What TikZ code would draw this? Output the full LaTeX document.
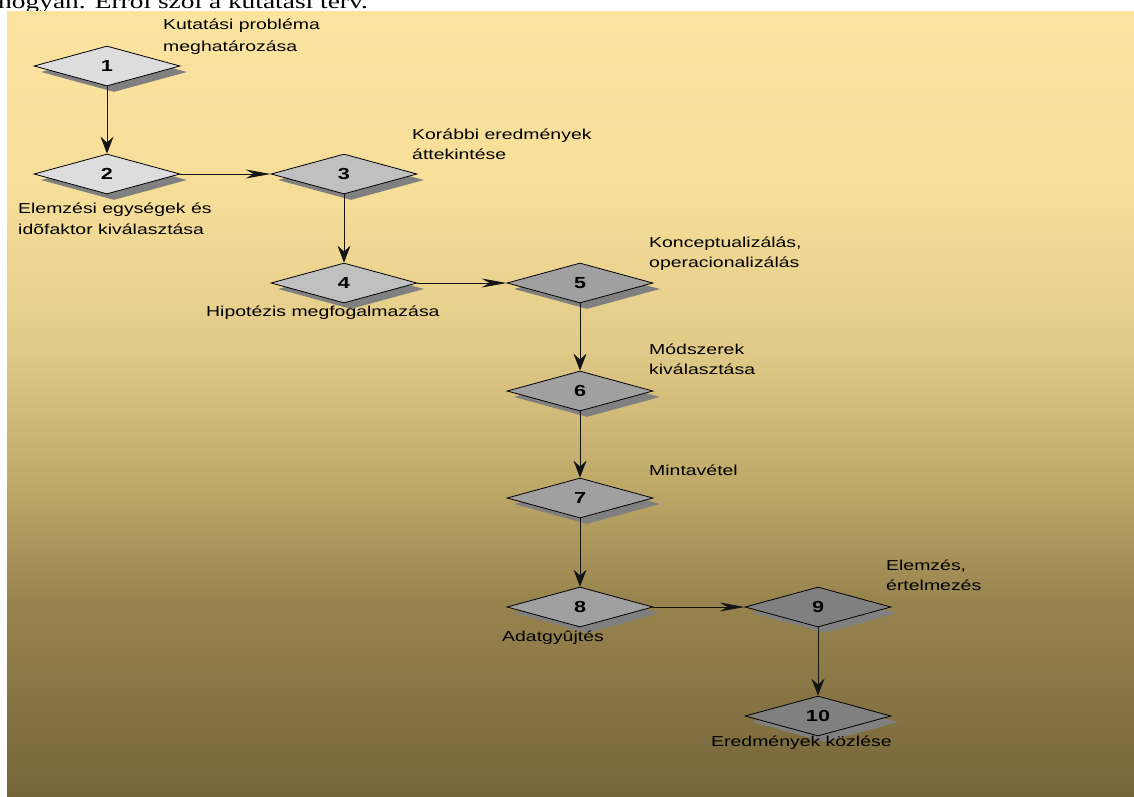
\documentclass[tikz,border=0pt]{standalone}
\usepackage{fontspec}
\setmainfont{Liberation Sans}
\newfontfamily\serifhead{Liberation Serif}
\usetikzlibrary{shapes.geometric,arrows.meta,shadows}

% page background colours, bottom to top
\definecolor{bgA}{RGB}{117,101,57}
\definecolor{bgB}{RGB}{152,132,78}
\definecolor{bgC}{RGB}{192,170,106}
\definecolor{bgD}{RGB}{225,202,135}
\definecolor{bgE}{RGB}{246,222,153}
\definecolor{bgF}{RGB}{252,228,160}
\pgfdeclareverticalshading{pagebg}{100bp}{%
  color(0bp)=(bgA); color(25bp)=(bgA); color(37.5bp)=(bgB);
  color(45.1bp)=(bgC); color(53.4bp)=(bgD); color(63bp)=(bgE);
  color(75bp)=(bgF); color(100bp)=(bgF)}

% step fills
\definecolor{stepA}{RGB}{221,221,221}
\definecolor{stepB}{RGB}{192,192,192}
\definecolor{stepC}{RGB}{160,160,160}
\definecolor{stepD}{RGB}{128,128,128}
\definecolor{shadowgrey}{RGB}{128,128,128}
\definecolor{inkline}{RGB}{20,20,20}

% horizontally widened text
\newcommand\wide[1]{\scalebox{1.35}[1]{#1}}
% two-line caption with a given line pitch
\newcommand\twolines[3]{\vtop{\baselineskip=#1\hbox{#2}\hbox{#3}}}

\tikzset{
  stepbox/.style={diamond, draw=black, line width=0.8pt,
    minimum width=146pt, minimum height=40pt, inner sep=0pt,
    font=\fontsize{16pt}{18pt}\selectfont\bfseries,
    general shadow={fill=shadowgrey, shadow xshift=7pt, shadow yshift=-6pt}},
  caption/.style={anchor=base west, inner sep=0pt, text=black,
    font=\fontsize{14.4pt}{17pt}\selectfont},
  varrow/.style={draw=inkline, line width=0.9pt,
    -{Stealth[length=17pt,width=13pt,inset=6pt]}},
  harrow/.style={draw=inkline, line width=0.9pt,
    -{Stealth[length=25pt,width=9pt,inset=8pt]}},
}

\begin{document}
\begin{tikzpicture}[x=1pt,y=-1pt]
\useasboundingbox (0,0) rectangle (1134,796);
\clip (0,0) rectangle (1134,796);

% running text line above the figure
\node[anchor=base west, inner sep=0pt,
      font=\serifhead\fontsize{20.3pt}{24pt}\selectfont] (head) at (-2,8.5)
  {\wide{hogyan. Erről szól a kutatási terv.}};

% figure background
\shade[shading=pagebg] (7,11) rectangle (1134,796);

% steps
\node[stepbox, fill=stepA] (n1)  at (107,66)  {\wide{1}};
\node[stepbox, fill=stepA] (n2)  at (107,174) {\wide{2}};
\node[stepbox, fill=stepB] (n3)  at (344,174) {\wide{3}};
\node[stepbox, fill=stepB] (n4)  at (344,283) {\wide{4}};
\node[stepbox, fill=stepC] (n5)  at (580,283) {\wide{5}};
\node[stepbox, fill=stepC] (n6)  at (580,391) {\wide{6}};
\node[stepbox, fill=stepC] (n7)  at (580,498) {\wide{7}};
\node[stepbox, fill=stepC] (n8)  at (580,607) {\wide{8}};
\node[stepbox, fill=stepD] (n9)  at (818,607) {\wide{9}};
\node[stepbox, fill=stepD] (n10) at (818,716) {\wide{10}};

% connectors
\draw[varrow] (n1.south) -- (n2.north);
\draw[harrow] (n2.east)  -- (n3.west);
\draw[varrow] (n3.south) -- (n4.north);
\draw[harrow] (n4.east)  -- (n5.west);
\draw[varrow] (n5.south) -- (n6.north);
\draw[varrow] (n6.south) -- (n7.north);
\draw[varrow] (n7.south) -- (n8.north);
\draw[harrow] (n8.east)  -- (n9.west);
\draw[varrow] (n9.south) -- (n10.north);

% captions
\node[caption] (t1) at (163,29)
  {\wide{\twolines{22pt}{Kutatási probléma}{meghatározása}}};
\node[caption] (t2) at (18,213)
  {\wide{\twolines{21pt}{Elemzési egységek és}{idõfaktor kiválasztása}}};
\node[caption] (t3) at (412,139)
  {\wide{\twolines{20pt}{Korábbi eredmények}{áttekintése}}};
\node[caption] (t4) at (206,316) {\wide{Hipotézis megfogalmazása}};
\node[caption] (t5) at (649,247)
  {\wide{\twolines{20pt}{Konceptualizálás,}{operacionalizálás}}};
\node[caption] (t6) at (649,354)
  {\wide{\twolines{20pt}{Módszerek}{kiválasztása}}};
\node[caption] (t7) at (649,475) {\wide{Mintavétel}};
\node[caption] (t8) at (502,641) {\wide{Adatgyûjtés}};
\node[caption] (t9) at (886,570)
  {\wide{\twolines{20pt}{Elemzés,}{értelmezés}}};
\node[caption] (t10) at (711,746) {\wide{Eredmények közlése}};
\end{tikzpicture}
\end{document}
